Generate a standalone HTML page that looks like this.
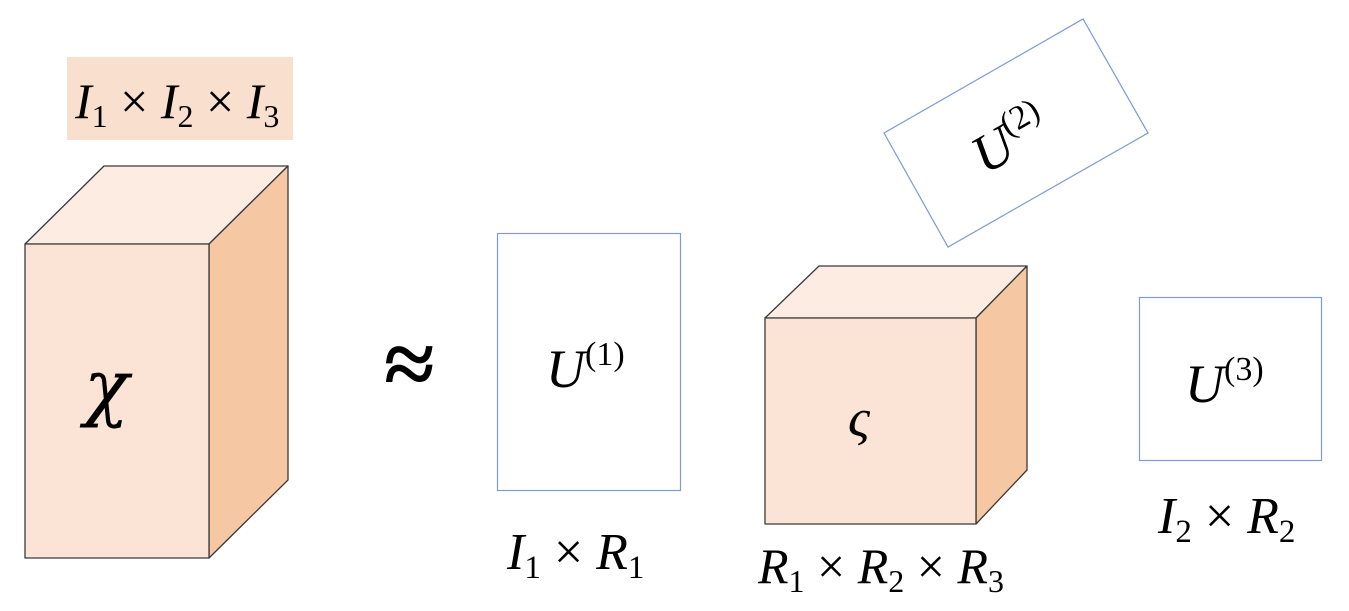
<!DOCTYPE html>
<html><head><meta charset="utf-8"><style>
html,body{margin:0;padding:0;background:#fff;width:1349px;height:611px;overflow:hidden}
svg text{font-family:"Liberation Serif",serif;fill:#000}
</style></head><body>
<svg width="1349" height="611" viewBox="0 0 1349 611" xmlns="http://www.w3.org/2000/svg">
<rect x="67" y="57" width="226" height="83" fill="#f9dfcd"/>
<text x="75" y="118" font-size="50" font-style="italic">I<tspan font-style="normal" font-size="32" dy="9">1</tspan><tspan font-style="normal" dy="-9"> × </tspan>I<tspan font-style="normal" font-size="32" dy="9">2</tspan><tspan font-style="normal" dy="-9"> × </tspan>I<tspan font-style="normal" font-size="32" dy="9">3</tspan></text>
<g stroke="#3a3a3a" stroke-width="1.3" stroke-linejoin="round">
<polygon points="25,244 104,166 288,166 209,244" fill="#fcece1"/>
<polygon points="209,244 288,166 288,480 209,558" fill="#f5c7a2"/>
<rect x="25" y="244" width="184" height="314" fill="#fbe4d5"/>
</g>
<text x="84" y="412" font-size="74" font-style="italic" style="font-family:'DejaVu Serif',serif">χ</text>
<text x="384" y="395" font-size="92" font-weight="bold">≈</text>
<rect x="497.5" y="233.5" width="183" height="257" fill="#fff" stroke="#7e9bd3" stroke-width="1.2"/>
<text x="546" y="387" font-size="54" font-style="italic">U<tspan font-style="normal" font-size="34" dy="-22">(1)</tspan></text>
<text x="507" y="569" font-size="52" font-style="italic">I<tspan font-style="normal" font-size="33" dy="9">1</tspan><tspan font-style="normal" dy="-9"> × </tspan>R<tspan font-style="normal" font-size="33" dy="9">1</tspan></text>
<g stroke="#3a3a3a" stroke-width="1.3" stroke-linejoin="round">
<polygon points="765,318 819,266 1027,266 976,318" fill="#fcece1"/>
<polygon points="976,318 1027,266 1027,470 976,524" fill="#f5c7a2"/>
<rect x="765" y="318" width="211" height="206" fill="#fbe4d5"/>
</g>
<text x="848" y="436" font-size="54" font-style="italic">ς</text>
<text x="758" y="583" font-size="50" font-style="italic">R<tspan font-style="normal" font-size="32" dy="9">1</tspan><tspan font-style="normal" dy="-9"> × </tspan>R<tspan font-style="normal" font-size="32" dy="9">2</tspan><tspan font-style="normal" dy="-9"> × </tspan>R<tspan font-style="normal" font-size="32" dy="9">3</tspan></text>
<polygon points="884,133 1083,19 1148,133 948,247" fill="#fff" stroke="#7e9bd3" stroke-width="1.2"/>
<text transform="translate(985,175) rotate(-30)" font-size="54" font-style="italic">U<tspan font-style="normal" font-size="34" dy="-22">(2)</tspan></text>
<rect x="1139.5" y="297.5" width="182" height="163" fill="#fff" stroke="#7e9bd3" stroke-width="1.2"/>
<text x="1185" y="402" font-size="54" font-style="italic">U<tspan font-style="normal" font-size="34" dy="-22">(3)</tspan></text>
<text x="1158" y="533" font-size="52" font-style="italic">I<tspan font-style="normal" font-size="33" dy="9">2</tspan><tspan font-style="normal" dy="-9"> × </tspan>R<tspan font-style="normal" font-size="33" dy="9">2</tspan></text>
</svg>
</body></html>
